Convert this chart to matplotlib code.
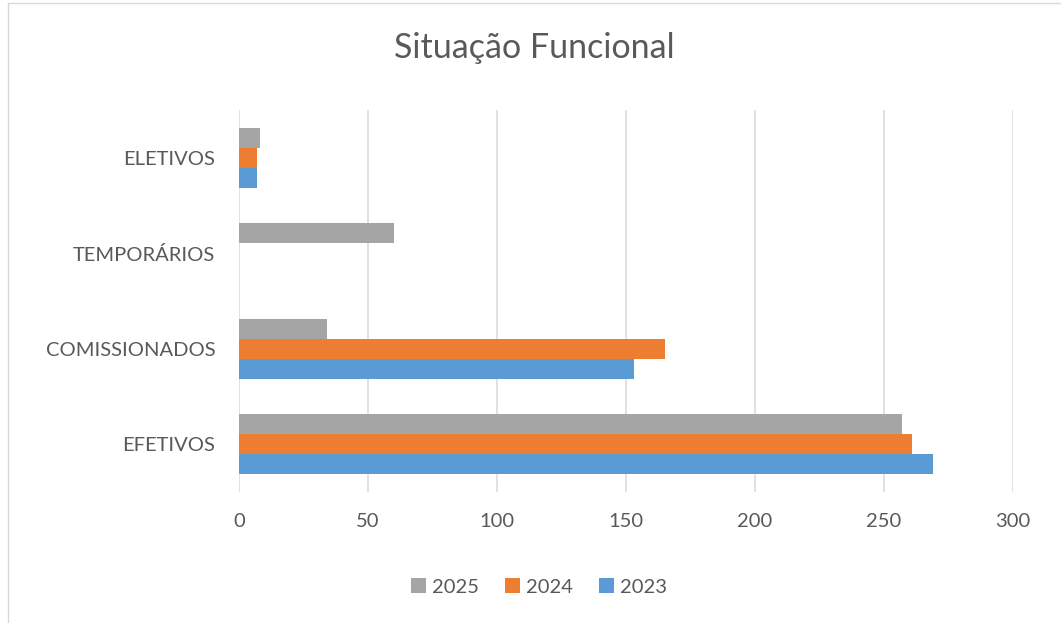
#!/usr/bin/env python3
"""Situação Funcional - horizontal grouped bar chart."""

import matplotlib
matplotlib.use("Agg")
import matplotlib.pyplot as plt
import numpy as np
from matplotlib.patches import Rectangle

categories = ["EFETIVOS", "COMISSIONADOS", "TEMPORÁRIOS", "ELETIVOS"]
series_names = ["2023", "2024", "2025"]
values_2023 = [269, 153, 0, 7]
values_2024 = [261, 165, 0, 7]
values_2025 = [257, 34, 60, 8]
x_ticks = [0, 50, 100, 150, 200, 250, 300]

COLORS = {"2023": "#5B9BD5", "2024": "#ED7D31", "2025": "#A5A5A5"}
TEXT_COLOR = "#595959"
GRID_COLOR = "#D9D9D9"

plt.rcParams["font.family"] = ["Lato", "DejaVu Sans"]

fig = plt.figure(figsize=(10.61, 6.23), dpi=100)
ax = fig.add_axes([0.2253, 0.2103, 0.7295, 0.6132])

# light chart frame like the office chart box
fig.patches.append(Rectangle((8 / 1061, -0.01), 1.0, 1 - 3 / 623 + 0.01,
                             transform=fig.transFigure, fill=False,
                             edgecolor="#D9D9D9", linewidth=1.0))

y = np.arange(len(categories))
h = 0.21
series = [values_2023, values_2024, values_2025]
offsets = [-h, 0, h]
bars = {}
for name, vals, off in zip(series_names, series, offsets):
    bars[name] = ax.barh(y + off, vals, height=h, color=COLORS[name],
                         edgecolor="none", zorder=3)

ax.set_xlim(0, 300)
ax.set_ylim(-0.5, len(categories) - 0.5)
ax.set_xticks(x_ticks)
ax.set_yticks(y)
ax.set_yticklabels(categories)
ax.grid(axis="x", color=GRID_COLOR, linewidth=1.1, zorder=0)
ax.set_axisbelow(True)
for spine in ax.spines.values():
    spine.set_visible(False)
ax.tick_params(axis="both", length=0, labelsize=14.5, labelcolor=TEXT_COLOR)
ax.tick_params(axis="x", pad=15)
ax.tick_params(axis="y", pad=17)

fig.text(0.504, 0.923, "Situação Funcional", ha="center", va="center",
         fontsize=24.5, color=TEXT_COLOR)

handles = [bars["2025"], bars["2024"], bars["2023"]]
fig.legend(handles, ["2025", "2024", "2023"], loc="center",
           bbox_to_anchor=(0.508, 0.058), ncol=3, frameon=False,
           fontsize=14.5, labelcolor=TEXT_COLOR, handlelength=0.75,
           handleheight=0.75, handletextpad=0.3, columnspacing=1.3)

fig.savefig("out.png", dpi=100)
